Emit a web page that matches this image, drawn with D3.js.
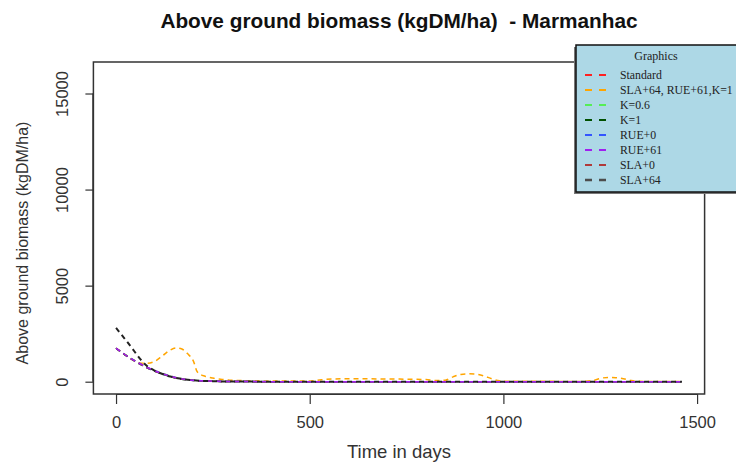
<!DOCTYPE html>
<html><head><meta charset="utf-8">
<script src="https://cdn.jsdelivr.net/npm/d3@7"></script>
<style>body{margin:0;background:#fff}svg{display:block}</style>
</head><body><div id="chart"></div>
<script>
// ---- data ----
const xTicks = [0, 500, 1000, 1500];
const yTicks = [0, 5000, 10000, 15000];
const seriesNames = ["Standard", "SLA+64, RUE+61,K=1", "K=0.6", "K=1", "RUE+0", "RUE+61", "SLA+0", "SLA+64"];
const seriesColors = ["#ff2020", "#ffa500", "#55ee55", "#005000", "#3355ff", "#a020f0", "#b03a3a", "#4d4d4d"];
const seriesWidths = [1.5, 1.5, 1.5, 1.5, 1.5, 1.5, 1.5, 2];

const baseDays = [0, 20, 40, 60, 80, 100, 120, 140, 160, 180, 200, 220, 240, 260, 280, 300, 400, 600, 800, 1000, 1200, 1461];
const standardVals = [1740, 1450, 1180, 950, 740, 560, 410, 280, 180, 110, 70, 45, 30, 20, 12, 8, 3, 2, 1, 1, 0, 0];
const k06Vals      = [1740, 1460, 1200, 970, 760, 580, 430, 300, 195, 120, 78, 50, 33, 22, 14, 9, 4, 2, 1, 1, 0, 0];
const k1Vals       = [1740, 1440, 1170, 935, 725, 545, 395, 268, 170, 104, 66, 42, 28, 18, 11, 7, 3, 2, 1, 1, 0, 0];
const rue0Vals     = [1740, 1445, 1175, 945, 735, 552, 402, 275, 176, 108, 68, 44, 29, 19, 12, 8, 3, 2, 1, 1, 0, 0];
const rue61Vals    = [1740, 1455, 1190, 960, 750, 570, 420, 290, 188, 116, 74, 48, 32, 21, 13, 9, 4, 2, 1, 1, 0, 0];
const sla0Vals     = [1740, 1448, 1178, 948, 738, 556, 406, 278, 178, 109, 69, 44, 29, 19, 12, 8, 3, 2, 1, 1, 0, 0];
const sla64Vals    = [2800, 2300, 1780, 1240, 820, 570, 400, 270, 180, 115, 75, 48, 30, 20, 12, 8, 3, 2, 1, 1, 0, 0];

const comboDays = [0, 20, 40, 60, 80, 100, 120, 140, 155, 170, 185, 200, 210, 230, 250, 270, 290, 300, 350, 400, 450, 500, 530, 560, 600, 650, 700, 750, 800, 830, 850, 870, 890, 910, 930, 950, 970, 990, 1000, 1100, 1200, 1230, 1250, 1270, 1290, 1310, 1330, 1350, 1400, 1461];
const comboVals = [1740, 1450, 1180, 980, 960, 1060, 1350, 1650, 1760, 1700, 1450, 1060, 500, 280, 190, 130, 90, 70, 50, 40, 35, 40, 100, 140, 150, 150, 140, 130, 110, 60, 80, 250, 380, 410, 390, 300, 150, 50, 30, 20, 15, 60, 170, 225, 210, 150, 60, 20, 10, 5];

const seriesData = [
  {days: baseDays, vals: standardVals},
  {days: comboDays, vals: comboVals},
  {days: baseDays, vals: k06Vals},
  {days: baseDays, vals: k1Vals},
  {days: baseDays, vals: rue0Vals},
  {days: baseDays, vals: rue61Vals},
  {days: baseDays, vals: sla0Vals},
  {days: baseDays, vals: sla64Vals}
];
const drawOrder = [0, 1, 2, 3, 4, 6, 5, 7];

// ---- layout ----
const W = 736, H = 463;
const svg = d3.select("#chart").append("svg").attr("width", W).attr("height", H);
const L = 93.4, R = 704.6, T = 62, B = 394;
const x = d3.scaleLinear().domain([-58.44, 1519.44]).range([L, R]);
const y = d3.scaleLinear().domain([-640, 16640]).range([B, T]);

svg.append("defs").append("clipPath").attr("id", "clip")
  .append("rect").attr("x", L).attr("y", T).attr("width", R - L).attr("height", B - T);

// lines
const line = d3.line().x(d => x(d[0])).y(d => y(d[1])).curve(d3.curveMonotoneX);
const g = svg.append("g").attr("clip-path", "url(#clip)");
drawOrder.forEach(i => {
  const s = seriesData[i];
  const pts = s.days.map((d, j) => [d, s.vals[j]]);
  g.append("path").datum(pts).attr("d", line)
    .attr("fill", "none").attr("stroke", i === 7 ? "#222" : seriesColors[i])
    .attr("stroke-width", seriesWidths[i]).attr("stroke-dasharray", "5,4");
});

// frame
svg.append("rect").attr("x", L).attr("y", T).attr("width", R - L).attr("height", B - T)
  .attr("fill", "none").attr("stroke", "#333").attr("stroke-width", 1.5);

// axes
const font = "'Liberation Sans', Arial, sans-serif";
const xAxis = svg.append("g").attr("transform", `translate(0,${B})`)
  .call(d3.axisBottom(x).tickValues(xTicks).tickSize(10).tickPadding(12).tickFormat(d3.format("d")));
xAxis.select(".domain").attr("d", `M${x(0)},0.5H${x(1500)}`).attr("stroke", "#333").attr("stroke-width", 1.2);
xAxis.selectAll(".tick line").attr("stroke", "#333").attr("stroke-width", 1.2);
xAxis.selectAll("text").attr("font-family", font).attr("font-size", 16.5).attr("fill", "#333");

const yAxis = svg.append("g").attr("transform", `translate(${L},0)`)
  .call(d3.axisLeft(y).tickValues(yTicks).tickSize(8).tickFormat(d3.format("d")));
yAxis.select(".domain").attr("d", `M-0.5,${y(0)}V${y(15000)}`).attr("stroke", "#333").attr("stroke-width", 1.2);
yAxis.selectAll(".tick line").attr("stroke", "#333").attr("stroke-width", 1.2);
yAxis.selectAll(".tick text").attr("font-family", font).attr("font-size", 16.5).attr("fill", "#333")
  .attr("x", null).attr("dy", null)
  .attr("transform", "translate(-31,0) rotate(-90)")
  .attr("text-anchor", "middle").attr("dominant-baseline", "central");

// titles
svg.append("text").attr("x", 399).attr("y", 28).attr("text-anchor", "middle")
  .attr("font-family", font).attr("font-weight", "bold").attr("font-size", 20.8)
  .attr("fill", "#111").style("white-space", "pre")
  .text("Above ground biomass (kgDM/ha)  - Marmanhac");
svg.append("text").attr("x", 399).attr("y", 458).attr("text-anchor", "middle")
  .attr("font-family", font).attr("font-size", 18.5).attr("fill", "#333").text("Time in days");
svg.append("text").attr("transform", `translate(22,243) rotate(-90)`)
  .attr("text-anchor", "middle").attr("dominant-baseline", "central")
  .attr("font-family", font).attr("font-size", 16).attr("fill", "#333")
  .text("Above ground biomass (kgDM/ha)");

// legend
const lg = svg.append("g");
const lx = 576, ly = 45, lw = 175, lh = 147;
lg.append("rect").attr("x", lx - 2).attr("y", ly + 2).attr("width", lw).attr("height", lh).attr("fill", "#777");
lg.append("rect").attr("x", lx).attr("y", ly).attr("width", lw).attr("height", lh)
  .attr("fill", "#add8e6").attr("stroke", "#111").attr("stroke-width", 1.5);
const serif = "'Liberation Serif', 'Times New Roman', serif";
lg.append("text").attr("x", 656).attr("y", 60).attr("text-anchor", "middle")
  .attr("font-family", serif).attr("font-size", 12).attr("fill", "#222").text("Graphics");
seriesNames.forEach((n, i) => {
  const yy = 75 + 15 * i;
  lg.append("line").attr("x1", 585).attr("x2", 607).attr("y1", yy).attr("y2", yy)
    .attr("stroke", seriesColors[i]).attr("stroke-width", seriesWidths[i] + 0.5).attr("stroke-dasharray", "7,7");
  lg.append("text").attr("x", 620).attr("y", yy + 4)
    .attr("font-family", serif).attr("font-size", 11.8).attr("fill", "#222").text(n);
});
</script>
</body></html>
